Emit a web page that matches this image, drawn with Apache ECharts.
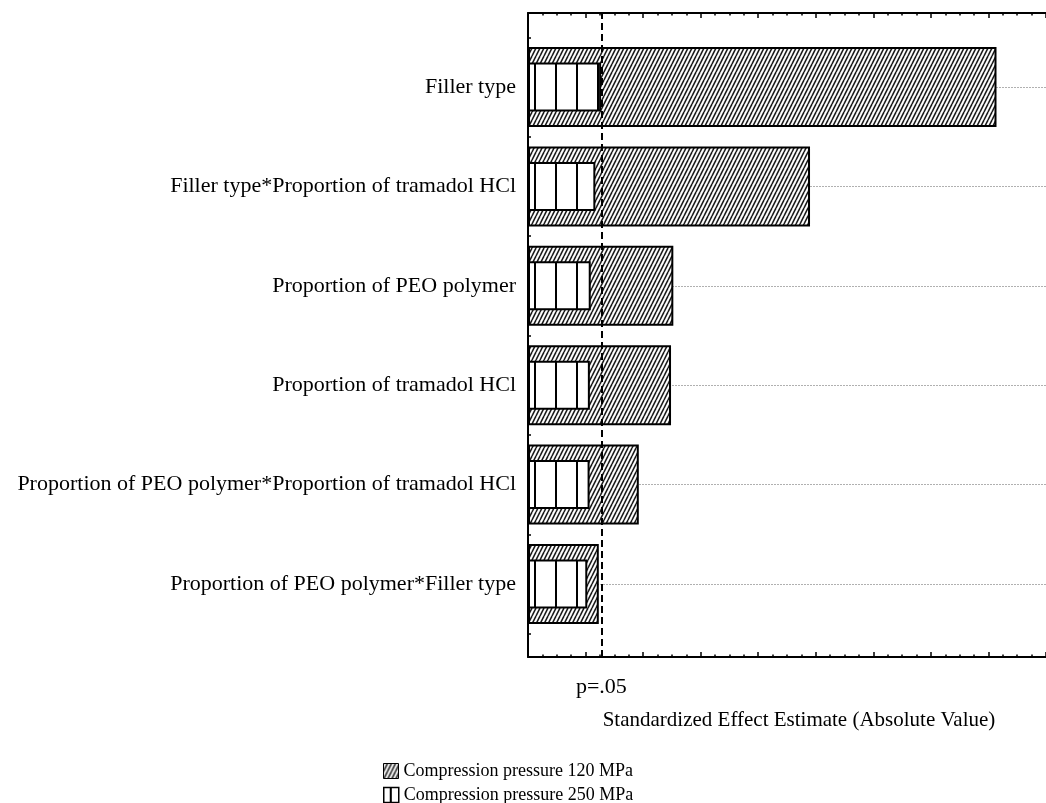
<!DOCTYPE html>
<html>
<head>
<meta charset="utf-8">
<script src="https://cdn.jsdelivr.net/npm/echarts@6/dist/echarts.min.js"></script>
<style>
  html, body { margin: 0; padding: 0; background: #fff; }
  #chart { width: 1046px; height: 803px; }
</style>
</head>
<body>
<div id="chart"></div>
<script>
// Pareto chart of standardized effects
const effects = [
  'Filler type',
  'Filler type*Proportion of tramadol HCl',
  'Proportion of PEO polymer',
  'Proportion of tramadol HCl',
  'Proportion of PEO polymer*Proportion of tramadol HCl',
  'Proportion of PEO polymer*Filler type'
];
const series120Name = 'Compression pressure 120 MPa';
const series250Name = 'Compression pressure 250 MPa';
const effects120 = [16.28, 9.80, 5.05, 4.97, 3.85, 2.46];
const effects250 = [2.54, 2.34, 2.18, 2.15, 2.14, 2.06];
const pCritical = 2.55;
const pLabel = 'p=.05';
const axisTitle = 'Standardized Effect Estimate (Absolute Value)';
const xMin = 0, xMax = 18, xStep = 2;

const FONT = "'Liberation Serif', 'Times New Roman', serif";

// diagonal hatch fill
function hatchTile() {
  const c = document.createElement('canvas');
  c.width = 4; c.height = 8;
  const g = c.getContext('2d');
  g.fillStyle = '#fff';
  g.fillRect(0, 0, 4, 8);
  g.strokeStyle = '#1a1a1a';
  g.lineWidth = 1.6;
  for (let k = -2; k <= 2; k++) {
    g.beginPath();
    g.moveTo(k * 4, 8);
    g.lineTo(k * 4 + 4, 0);
    g.stroke();
  }
  return c;
}

// vertical stripe fill
function stripeTile(period, offset) {
  const c = document.createElement('canvas');
  c.width = period; c.height = 4;
  const g = c.getContext('2d');
  g.fillStyle = '#fff';
  g.fillRect(0, 0, period, 4);
  g.fillStyle = '#000';
  g.fillRect(offset, 0, 2, 4);
  return c;
}

const hatchFill = { image: hatchTile(), repeat: 'repeat' };
const stripeFill = { image: stripeTile(21, 9), repeat: 'repeat' };
const stripeLegendFill = { image: stripeTile(21, 6), repeat: 'repeat' };

const frameAxis = (position) => ({
  gridIndex: 0,
  type: 'value',
  position: position,
  min: xMin,
  max: xMax,
  interval: xStep,
  axisLine: { show: true, onZero: false, lineStyle: { color: '#000', width: 2 } },
  axisTick: { show: true, inside: true, length: 5, lineStyle: { color: '#000', width: 1.5 } },
  minorTick: { show: true, splitNumber: 4, length: 2.5, lineStyle: { color: '#000', width: 1.5 } },
  axisLabel: { show: false },
  splitLine: { show: false }
});

const categoryAxis = (visible) => ({
  gridIndex: 1, type: 'category', data: effects, inverse: true,
  show: visible,
  axisLine: { show: false },
  axisTick: { show: visible, inside: true, length: 3, lineStyle: { color: '#000', width: 1.5 } },
  axisLabel: { show: visible, margin: 12, color: '#000', fontFamily: FONT, fontSize: 22 },
  splitLine: { show: false }
});

const legendBox = (name, top, itemStyle) => ({
  orient: 'vertical',
  left: 383,
  top: top,
  padding: 0,
  icon: 'rect',
  itemWidth: 15,
  itemHeight: 15,
  selectedMode: false,
  textStyle: { color: '#000', fontFamily: FONT, fontSize: 18 },
  data: [{ name: name, itemStyle: itemStyle }]
});

const chart = echarts.init(document.getElementById('chart'), null, { renderer: 'canvas' });

chart.setOption({
  animation: false,
  backgroundColor: '#fff',
  grid: [
    { left: 528, top: 13, width: 525, height: 644 },
    { left: 528, top: 37.3, width: 525, height: 596.4 }
  ],
  xAxis: [
    frameAxis('bottom'),
    frameAxis('top'),
    { gridIndex: 1, type: 'value', min: xMin, max: xMax, show: false }
  ],
  yAxis: [
    {
      gridIndex: 0, type: 'value', min: 0, max: 1,
      axisLine: { show: true, onZero: false, lineStyle: { color: '#000', width: 2 } },
      axisTick: { show: false }, axisLabel: { show: false }, splitLine: { show: false }
    },
    categoryAxis(true),
    categoryAxis(false)
  ],
  legend: [
    legendBox(series120Name, 762, { borderWidth: 1 }),
    legendBox(series250Name, 786, { color: stripeLegendFill, borderWidth: 1.5 })
  ],
  graphic: [
    {
      type: 'text',
      x: 799,
      y: 720,
      style: {
        text: axisTitle,
        fill: '#000',
        font: '21px ' + FONT,
        align: 'center', verticalAlign: 'middle',
        textAlign: 'center', textVerticalAlign: 'middle'
      }
    }
  ],
  series: [
    {
      // p = .05 significance line across the frame
      type: 'line',
      xAxisIndex: 0, yAxisIndex: 0,
      data: [],
      silent: true,
      markLine: {
        silent: true,
        symbol: 'none',
        z: 10,
        lineStyle: { color: '#000', width: 2, type: [7, 4] },
        label: {
          show: true, position: 'start', distance: 19,
          formatter: pLabel, color: '#000', fontFamily: FONT, fontSize: 22
        },
        data: [{ xAxis: pCritical }]
      }
    },
    {
      // dotted guide line through each effect row
      type: 'line',
      xAxisIndex: 2, yAxisIndex: 1,
      data: [],
      silent: true,
      z: 1,
      markLine: {
        silent: true,
        symbol: 'none',
        z: 1,
        label: { show: false },
        lineStyle: { color: '#b0b0b0', width: 1, type: [2, 1] },
        data: effects.map(e => ({ yAxis: e }))
      }
    },
    {
      name: series120Name,
      type: 'bar',
      xAxisIndex: 2, yAxisIndex: 1,
      data: effects120,
      barWidth: 80,
      z: 2,
      itemStyle: { color: hatchFill, borderColor: '#000', borderWidth: 2 }
    },
    {
      name: series250Name,
      type: 'bar',
      xAxisIndex: 2, yAxisIndex: 2,
      data: effects250,
      barWidth: 49,
      z: 3,
      itemStyle: { color: stripeFill, borderColor: '#000', borderWidth: 2 }
    }
  ]
});
</script>
</body>
</html>
